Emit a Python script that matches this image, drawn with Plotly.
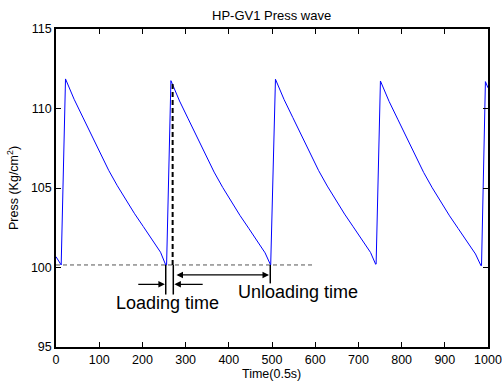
import plotly.graph_objects as go

# Pressure wave samples (time in 0.5 s units, pressure in Kg/cm^2)
time = [0, 5, 12,
        22, 32, 42, 62, 82, 102, 122, 142, 162, 182, 202, 222, 242, 254,
        256, 266, 276, 286, 306, 326, 346, 366, 386, 406, 426, 446, 466, 484, 496,
        497, 508, 518, 528, 548, 568, 588, 608, 628, 648, 668, 688, 708, 728, 740,
        741, 751, 761, 771, 791, 811, 831, 851, 871, 891, 911, 931, 951, 971, 984,
        985, 994, 1000]
press = [100.68, 100.45, 100.16,
         111.86, 111.18, 110.58, 109.46, 108.31, 107.16, 106.11, 105.14, 104.23, 103.38, 102.58, 101.79, 100.96, 100.16,
         100.16, 111.75, 111.07, 110.47, 109.35, 108.20, 107.05, 106.00, 105.03, 104.12, 103.27, 102.47, 101.68, 100.92, 100.20,
         100.16, 111.84, 111.16, 110.56, 109.44, 108.29, 107.14, 106.09, 105.12, 104.21, 103.36, 102.56, 101.77, 100.95, 100.20,
         100.22, 111.73, 111.05, 110.45, 109.33, 108.18, 107.03, 105.98, 105.01, 104.10, 103.25, 102.45, 101.66, 100.85, 100.10,
         100.12, 111.69, 111.30]

# Reference (base pressure) line
base_x = [0, 595]
base_y = [100.16, 100.16]

# Dashed marker at the end of loading
load_end_x = [270, 270]
load_end_y = [100.16, 111.6]

# Solid tick lines below the base line
tick_lines = [([254, 254], [100.16, 98.3]),
              ([271.5, 271.5], [100.16, 98.3]),
              ([496, 496], [100.16, 99.0])]

# Arrows: (head_x, head_y, tail_x, tail_y, both_sides)
arrows = [(252, 98.94, 187, 98.94, False),
          (274, 98.94, 343, 98.94, False),
          (493, 99.53, 275.5, 99.53, True)]

# Text labels
labels = ["Loading time", "Unloading time"]
label_x = [258, 560]
label_y = [97.79, 98.48]

x_ticks = [0, 100, 200, 300, 400, 500, 600, 700, 800, 900, 1000]
y_ticks = [95, 100, 105, 110, 115]

FONT = "Arial, Liberation Sans, sans-serif"
PLOT_H = 318.0
PLOT_W = 432.0

fig = go.Figure()
fig.add_trace(go.Scatter(x=base_x, y=base_y, mode="lines",
                         line=dict(color="#555555", width=1, dash="4px,3px"),
                         hoverinfo="skip"))
fig.add_trace(go.Scatter(x=time, y=press, mode="lines",
                         line=dict(color="#0000ff", width=1)))
fig.add_trace(go.Scatter(x=load_end_x, y=load_end_y, mode="lines",
                         line=dict(color="black", width=2, dash="5px,3px")))
for lx, ly in tick_lines:
    fig.add_trace(go.Scatter(x=lx, y=ly, mode="lines",
                             line=dict(color="black", width=1.5)))

for hx, hy, tx, ty, both in arrows:
    fig.add_annotation(x=hx, y=hy, ax=tx, ay=ty, xref="x", yref="y",
                       axref="x", ayref="y", text="", showarrow=True,
                       arrowhead=2, arrowsize=1, arrowwidth=1.3,
                       arrowcolor="black",
                       arrowside="end+start" if both else "end",
                       startarrowhead=2, startarrowsize=1)

for t, x, y in zip(labels, label_x, label_y):
    fig.add_annotation(x=x, y=y, xref="x", yref="y", text=t, showarrow=False,
                       font=dict(family=FONT, size=18, color="black"),
                       xanchor="center", yanchor="middle")

# Title and axis titles placed in paper coordinates
fig.add_annotation(x=0.498, y=1 + (29 - 15.7) / PLOT_H, xref="paper", yref="paper",
                   text="HP-GV1 Press wave", showarrow=False,
                   xanchor="center", yanchor="middle",
                   font=dict(family=FONT, size=13, color="black"))
fig.add_annotation(x=0.498, y=-(374 - 347) / PLOT_H, xref="paper", yref="paper",
                   text="Time(0.5s)", showarrow=False,
                   xanchor="center", yanchor="middle",
                   font=dict(family=FONT, size=12.5, color="black"))
fig.add_annotation(x=(13 - 56) / PLOT_W, y=(347 - 188) / PLOT_H, xref="paper", yref="paper",
                   text="Press (Kg/cm<sup>2</sup>)", showarrow=False, textangle=-90,
                   xanchor="center", yanchor="middle",
                   font=dict(family=FONT, size=12.5, color="black"))

axis_common = dict(showgrid=False, zeroline=False, showline=True,
                   linecolor="black", linewidth=1.5, mirror="ticks",
                   ticks="inside", ticklen=5, tickwidth=1, tickcolor="black",
                   automargin=False,
                   tickfont=dict(family=FONT, size=12.5, color="black"))

fig.update_layout(
    width=502, height=382,
    margin=dict(l=56, r=14, t=29, b=35),
    paper_bgcolor="white", plot_bgcolor="white",
    showlegend=False,
    xaxis=dict(range=[0, 1000], tickvals=x_ticks, ticktext=[str(v) for v in x_ticks],
               **axis_common),
    yaxis=dict(range=[95, 115], tickvals=y_ticks, ticktext=[str(v) for v in y_ticks],
               **axis_common),
)

fig.write_html("out.html")
